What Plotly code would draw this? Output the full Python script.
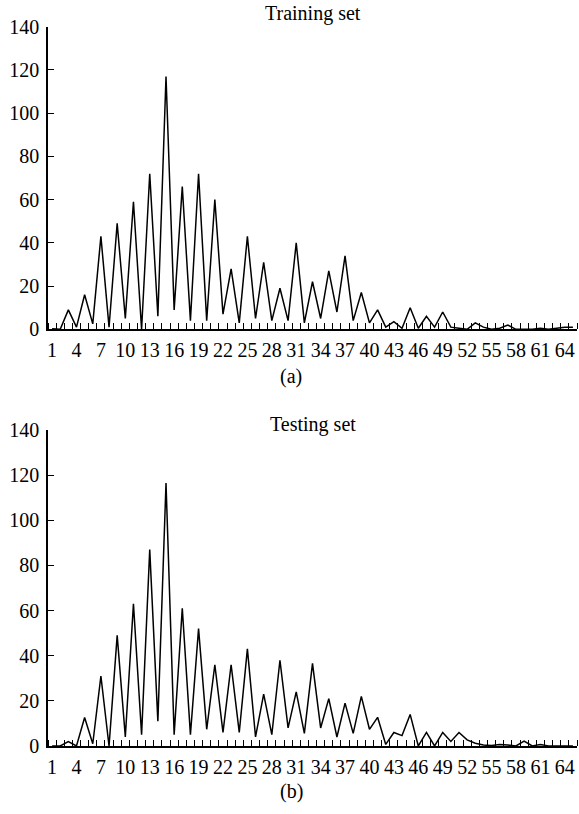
import plotly.graph_objects as go

categories = list(range(1, 66))
tick_labels = list(range(1, 65, 3))
y_ticks = [0, 20, 40, 60, 80, 100, 120, 140]

training_set = [
    0.3, 0, 9, 1, 16, 2.5, 43, 1, 49, 5,
    59, 0, 72, 6, 117, 9, 66, 4, 72, 4,
    60, 7, 28, 3, 43, 5, 31, 4, 19, 4,
    40, 3, 22, 5, 27, 8, 34, 4, 17, 3,
    9, 1, 3.5, 0.5, 10, 0.5, 6, 1, 8, 1,
    0.5, 0, 3, 1, 0, 0.5, 2, 0, 0, 0,
    0.5, 0, 0.5, 1, 1,
]

testing_set = [
    0, 0, 2, 0, 12.6, 1, 31, 0, 49, 4,
    63, 5, 87, 11, 116.5, 5, 61, 5, 52, 7.4,
    36, 6, 36, 6, 43, 4, 23, 5, 38, 8,
    24, 5.6, 36.6, 8, 21, 4, 19, 5.6, 22, 7.4,
    12.7, 0.7, 6, 4.6, 14, 0, 6, 0, 6, 2,
    6, 2.7, 1.2, 0.4, 0.2, 0.7, 0.4, 0, 2.2, 0,
    0.7, 0, 0, 0, 0,
]

W, H = 579, 814
FONT = "Liberation Serif"
FS = 20

fig = go.Figure()
fig.add_trace(go.Scatter(x=categories, y=training_set, mode="lines",
                         line=dict(color="black", width=1.5),
                         xaxis="x", yaxis="y", showlegend=False))
fig.add_trace(go.Scatter(x=categories, y=testing_set, mode="lines",
                         line=dict(color="black", width=1.5),
                         xaxis="x2", yaxis="y2", showlegend=False))

x_dom = [48 / W, 577 / W]
top_dom = [1 - 329.3 / H, 1 - 26.7 / H]
bot_dom = [1 - 746 / H, 1 - 430 / H]

def xaxis_style(anchor):
    return dict(
        domain=x_dom, anchor=anchor, range=[0.5, 65.5],
        tickmode="array", tickvals=tick_labels,
        ticktext=[str(v) for v in tick_labels],
        ticks="", showgrid=False, zeroline=False,
        showline=True, linecolor="black", linewidth=1.8,
        tickfont=dict(family=FONT, size=FS, color="black"),
        ticklabelstandoff=2,
        automargin=False,
        minor=dict(tickmode="array",
                   tickvals=[c - 0.5 for c in categories] + [65.5],
                   ticks="inside", ticklen=6, tickwidth=1.3,
                   tickcolor="black", showgrid=False),
    )

def yaxis_style(anchor, dom):
    return dict(
        domain=dom, anchor=anchor, range=[0, 140],
        tickmode="array", tickvals=y_ticks,
        ticks="inside", ticklen=6, tickwidth=1.3, tickcolor="black",
        showgrid=False, zeroline=False,
        showline=True, linecolor="black", linewidth=1.5,
        tickfont=dict(family=FONT, size=FS, color="black"),
        ticklabelstandoff=3,
        automargin=False,
    )

fig.update_layout(
    width=W, height=H,
    margin=dict(l=0, r=0, t=0, b=0),
    paper_bgcolor="white", plot_bgcolor="white",
    xaxis=xaxis_style("y"),
    yaxis=yaxis_style("x", top_dom),
    xaxis2=xaxis_style("y2"),
    yaxis2=yaxis_style("x2", bot_dom),
    annotations=[
        dict(text="Training set", x=313 / W, y=1 - 13 / H, xref="paper", yref="paper",
             showarrow=False, font=dict(family=FONT, size=FS, color="black"),
             xanchor="center", yanchor="middle"),
        dict(text="Testing set", x=313 / W, y=1 - 424 / H, xref="paper", yref="paper",
             showarrow=False, font=dict(family=FONT, size=FS, color="black"),
             xanchor="center", yanchor="middle"),
        dict(text="(a)", x=291 / W, y=1 - 376 / H, xref="paper", yref="paper",
             showarrow=False, font=dict(family=FONT, size=FS, color="black"),
             xanchor="center", yanchor="middle"),
        dict(text="(b)", x=291 / W, y=1 - 791 / H, xref="paper", yref="paper",
             showarrow=False, font=dict(family=FONT, size=FS, color="black"),
             xanchor="center", yanchor="middle"),
    ],
)

fig.write_html("out.html", config={"displayModeBar": False},
               post_script="document.body.style.margin='0';document.body.style.padding='0';")
